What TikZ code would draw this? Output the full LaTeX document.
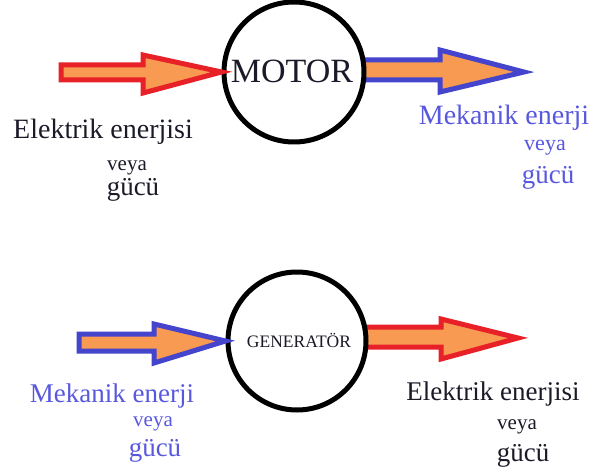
\documentclass[tikz,border=0pt]{standalone}
\usepackage{fontspec}
\setmainfont{LiberationSerif}[Extension=.ttf,UprightFont=*-Regular,BoldFont=*-Bold,ItalicFont=*-Italic,BoldItalicFont=*-BoldItalic]
\definecolor{arrred}{RGB}{232,32,40}
\definecolor{arrblue}{RGB}{68,68,204}
\definecolor{arrfill}{RGB}{248,154,82}
\definecolor{txtblue}{RGB}{88,88,222}
\definecolor{txtdark}{RGB}{26,26,40}
\newcommand{\fsz}[1]{\rmfamily\fontsize{#1}{#1}\selectfont}
\begin{document}
\begin{tikzpicture}[x=1pt,y=-1pt,
  machine/.style={circle,draw=black,line width=5pt,fill=white,inner sep=0pt,minimum size=140pt},
  redarrow/.style={draw=arrred,fill=arrfill,line width=5pt,line join=miter},
  bluearrow/.style={draw=arrblue,fill=arrfill,line width=5pt,line join=miter},
  lbl/.style={anchor=base,inner sep=0pt,text=txtdark},
  lblblue/.style={anchor=base,inner sep=0pt,text=txtblue}]
\useasboundingbox (0,0) rectangle (594,473);

% motor: electrical energy in, mechanical energy out
\coordinate (mcen) at (294,72);
\draw[bluearrow] (360,60) -- (440,60) -- (440,50) -- (524,72) -- (440,92) -- (440,80) -- (360,80) -- cycle;
\node[machine] (motor) at (mcen) {};
\node[lbl,font=\fsz{34}] (motortxt) at (292,83) {MOTOR};
\draw[redarrow] (61,65) -- (143,65) -- (143,55) -- (motor.west) -- (143,93) -- (143,80) -- (61,80) -- cycle;

\node[lbl,font=\fsz{28}] (ein) at (103,139) {Elektrik enerjisi};
\node[lbl,font=\fsz{21}] (ein2) at (127,171) {veya};
\node[lbl,font=\fsz{27}] (ein3) at (133,196) {gücü};
\node[lblblue,font=\fsz{28}] (mout) at (504,125) {Mekanik enerji};
\node[lblblue,font=\fsz{22}] (mout2) at (545,151) {veya};
\node[lblblue,font=\fsz{27}] (mout3) at (548,184) {gücü};

% generator: mechanical energy in, electrical energy out
\coordinate (gcen) at (297,341);
\draw[redarrow] (362,327) -- (441,327) -- (441,319) -- (518,338) -- (441,359) -- (441,347) -- (362,347) -- cycle;
\node[machine,minimum size=138pt] (gen) at (gcen) {};
\node[lbl,font=\fsz{17.5}] (gentxt) at (299,347) {GENERATÖR};
\draw[bluearrow] (79,334) -- (154,334) -- (154,324) -- (gen.west) -- (154,363) -- (154,351) -- (79,351) -- cycle;

\node[lblblue,font=\fsz{27}] (min) at (112,402) {Mekanik enerji};
\node[lblblue,font=\fsz{21}] (min2) at (153,426) {veya};
\node[lblblue,font=\fsz{27}] (min3) at (155,456) {gücü};
\node[lbl,font=\fsz{27}] (eout) at (493,400) {Elektrik enerjisi};
\node[lbl,font=\fsz{21}] (eout2) at (517,429) {veya};
\node[lbl,font=\fsz{27}] (eout3) at (523,461) {gücü};
\end{tikzpicture}
\end{document}
